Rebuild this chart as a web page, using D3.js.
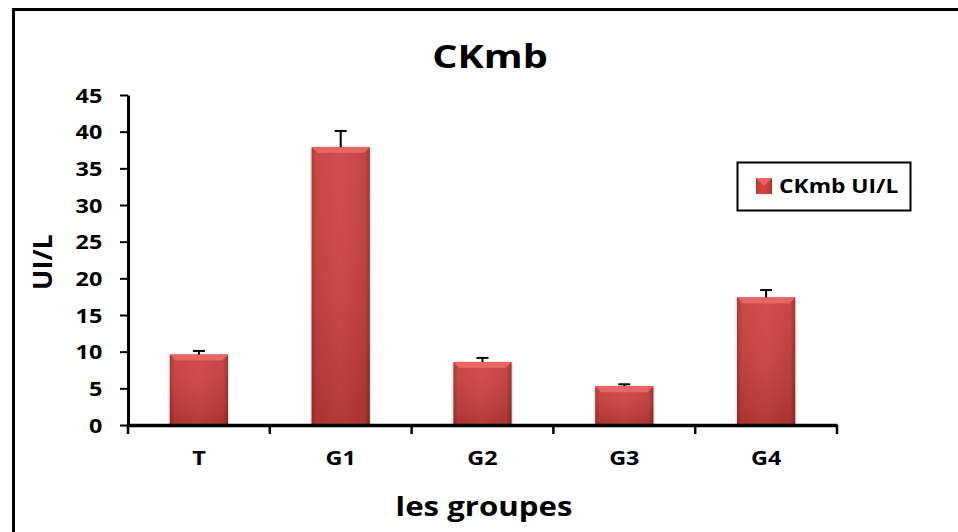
<!DOCTYPE html>
<html>
<head>
<meta charset="utf-8">
<script src="https://cdn.jsdelivr.net/npm/d3@7"></script>
<style>
  body { margin: 0; background: #fff; }
  text { font-family: "Open Sans", sans-serif; font-weight: bold; fill: #000; }
</style>
</head>
<body>
<div id="my_dataviz"></div>
<script>
// data
var groups = ["T", "G1", "G2", "G3", "G4"];
var values = [9.6, 37.9, 8.6, 5.3, 17.4];
var errors = [0.5, 2.2, 0.55, 0.25, 1.0];
var yTicks = [0, 5, 10, 15, 20, 25, 30, 35, 40, 45];
var seriesName = "CKmb UI/L";

var W = 958, H = 532;
var sx = 1.17; // the source text is drawn a bit wide
var margin = {top: 95, right: 121, bottom: 107, left: 128},
    width = W - margin.left - margin.right,
    height = H - margin.top - margin.bottom;

var root = d3.select("#my_dataviz")
    .append("svg")
    .attr("width", W)
    .attr("height", H);

var defs = root.append("defs");
var grad = defs.append("linearGradient").attr("id", "barGrad")
    .attr("x1", 0).attr("x2", 1).attr("y1", 0).attr("y2", 0);
grad.append("stop").attr("offset", "0%").attr("stop-color", "#9e2f2c");
grad.append("stop").attr("offset", "8%").attr("stop-color", "#c63c39");
grad.append("stop").attr("offset", "50%").attr("stop-color", "#d04341");
grad.append("stop").attr("offset", "92%").attr("stop-color", "#c23a37");
grad.append("stop").attr("offset", "100%").attr("stop-color", "#8f2a27");

var vgrad = defs.append("linearGradient").attr("id", "barShade")
    .attr("x1", 0).attr("x2", 0).attr("y1", 0).attr("y2", 1);
vgrad.append("stop").attr("offset", "0%").attr("stop-color", "#fff").attr("stop-opacity", 0.06);
vgrad.append("stop").attr("offset", "100%").attr("stop-color", "#000").attr("stop-opacity", 0.14);

var shadow = defs.append("filter").attr("id", "shadow")
    .attr("x", "-20%").attr("y", "-10%").attr("width", "140%").attr("height", "120%");
shadow.append("feGaussianBlur").attr("in", "SourceAlpha").attr("stdDeviation", 1.5);
shadow.append("feOffset").attr("dx", 0).attr("dy", 1).attr("result", "blur");
var fm = shadow.append("feComponentTransfer");
fm.append("feFuncA").attr("type", "linear").attr("slope", 0.35);
var merge = shadow.append("feMerge");
merge.append("feMergeNode");
merge.append("feMergeNode").attr("in", "SourceGraphic");

// outer frame (runs off the right and bottom edges)
root.append("rect")
    .attr("x", 13.5).attr("y", 9.5)
    .attr("width", 960).attr("height", 540)
    .attr("fill", "none")
    .attr("stroke", "#000")
    .attr("stroke-width", 3);

var svg = root.append("g")
    .attr("transform", "translate(" + margin.left + "," + margin.top + ")");

var x = d3.scaleBand()
    .domain(groups)
    .range([0, width])
    .paddingInner(0.59)
    .paddingOuter(0.295);

var y = d3.scaleLinear()
    .domain([0, 45])
    .range([height, 0]);

// bars
var bars = svg.append("g").selectAll("g")
    .data(groups)
    .enter()
    .append("g")
    .attr("filter", "url(#shadow)");

bars.append("rect")
    .attr("x", function(d) { return x(d); })
    .attr("y", function(d, i) { return y(values[i]); })
    .attr("width", x.bandwidth())
    .attr("height", function(d, i) { return height - y(values[i]); })
    .attr("fill", "url(#barGrad)");

bars.append("rect")
    .attr("x", function(d) { return x(d); })
    .attr("y", function(d, i) { return y(values[i]); })
    .attr("width", x.bandwidth())
    .attr("height", function(d, i) { return height - y(values[i]); })
    .attr("fill", "url(#barShade)");

// top bevel
var bev = 6;
bars.append("path")
    .attr("d", function(d, i) {
        var x0 = x(d), x1 = x(d) + x.bandwidth(), t = y(values[i]);
        return "M" + x0 + "," + t + "L" + x1 + "," + t +
               "L" + (x1 - bev) + "," + (t + bev) + "L" + (x0 + bev) + "," + (t + bev) + "Z";
    })
    .attr("fill", "#e86563");

// error bars (upper only)
var err = svg.append("g")
    .attr("stroke", "#000")
    .attr("stroke-width", 2);

err.selectAll("line.v")
    .data(groups)
    .enter()
    .append("line")
    .attr("class", "v")
    .attr("x1", function(d) { return x(d) + x.bandwidth() / 2; })
    .attr("x2", function(d) { return x(d) + x.bandwidth() / 2; })
    .attr("y1", function(d, i) { return y(values[i]); })
    .attr("y2", function(d, i) { return y(values[i] + errors[i]); });

err.selectAll("line.c")
    .data(groups)
    .enter()
    .append("line")
    .attr("class", "c")
    .attr("x1", function(d) { return x(d) + x.bandwidth() / 2 - 6; })
    .attr("x2", function(d) { return x(d) + x.bandwidth() / 2 + 6; })
    .attr("y1", function(d, i) { return y(values[i] + errors[i]); })
    .attr("y2", function(d, i) { return y(values[i] + errors[i]); });

// y axis
var yAxis = svg.append("g")
    .call(d3.axisLeft(y).tickValues(yTicks).tickSize(8).tickPadding(14).tickSizeOuter(0));
yAxis.select(".domain").attr("stroke-width", 3);
yAxis.selectAll(".tick line").attr("stroke-width", 2);
yAxis.selectAll("text")
    .style("font-size", "20px")
    .attr("dy", "0.36em")
    .attr("transform", "scale(" + sx + ",1)");

// x axis: ticks at band edges
var xAxis = svg.append("g")
    .attr("transform", "translate(0," + height + ")")
    .call(d3.axisBottom(x).tickSize(0).tickPadding(26));
xAxis.select(".domain").attr("stroke-width", 3.5);
xAxis.selectAll("text")
    .style("font-size", "20px")
    .attr("transform", "scale(" + sx + ",1)");

var edges = groups.map(function(d) { return x(d) - x.step() * x.paddingInner() / 2; });
edges.push(width);
xAxis.selectAll("line.edge")
    .data(edges)
    .enter()
    .append("line")
    .attr("class", "edge")
    .attr("x1", function(d) { return d; })
    .attr("x2", function(d) { return d; })
    .attr("y1", 0)
    .attr("y2", 9)
    .attr("stroke", "#000")
    .attr("stroke-width", 2.5);

// title and axis titles
root.append("text")
    .attr("transform", "translate(490,68) scale(1.2,1)")
    .attr("text-anchor", "middle")
    .style("font-size", "33px")
    .text("CKmb");

root.append("text")
    .attr("transform", "translate(52,262) rotate(-90)")
    .attr("text-anchor", "middle")
    .style("font-size", "27px")
    .text("UI/L");

root.append("text")
    .attr("transform", "translate(484,516) scale(1.2,1)")
    .attr("text-anchor", "middle")
    .style("font-size", "26px")
    .text("les groupes");

// legend
var leg = root.append("g");
leg.append("rect")
    .attr("x", 737.5).attr("y", 162.5)
    .attr("width", 173).attr("height", 48)
    .attr("fill", "#fff")
    .attr("stroke", "#000")
    .attr("stroke-width", 2);
leg.append("rect")
    .attr("x", 756).attr("y", 178)
    .attr("width", 16).attr("height", 16)
    .attr("fill", "url(#barGrad)");
leg.append("path")
    .attr("d", "M756,178L772,178L764,186Z")
    .attr("fill", "#e86563");
leg.append("text")
    .attr("transform", "translate(779,193) scale(1.2,1)")
    .style("font-size", "19px")
    .text(seriesName);
</script>
</body>
</html>
